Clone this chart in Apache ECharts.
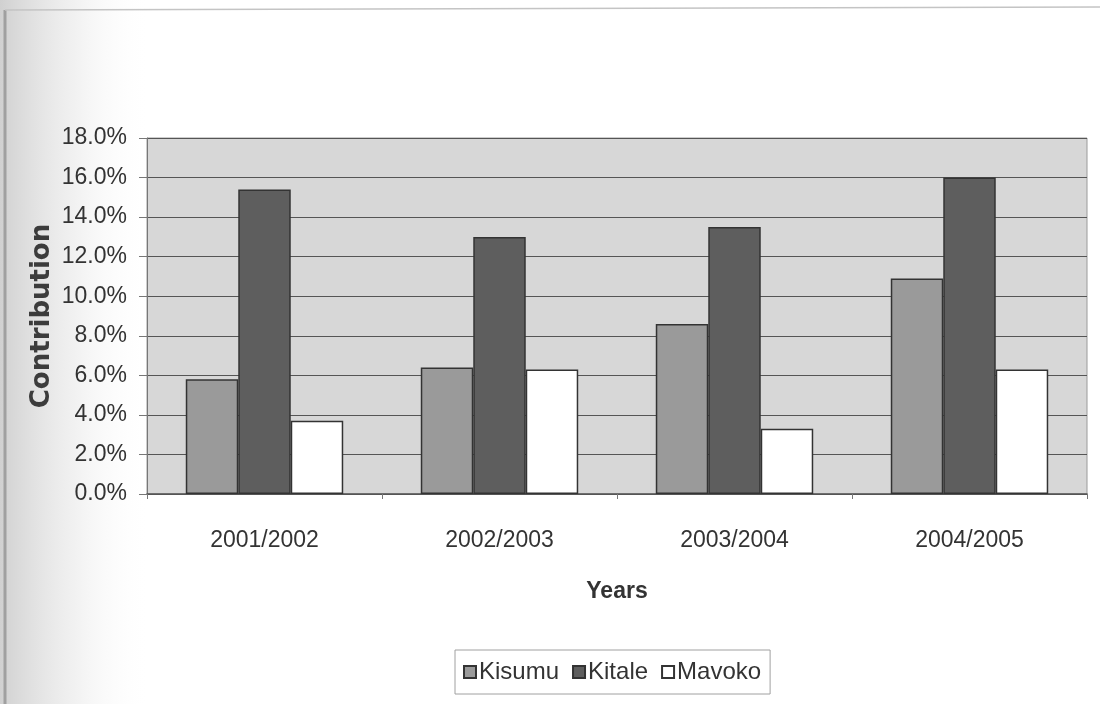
<!DOCTYPE html>
<html>
<head>
<meta charset="utf-8">
<title>Contribution by Years</title>
<script src="https://cdn.jsdelivr.net/npm/echarts@6/dist/echarts.min.js"></script>
<style>
  html, body { margin: 0; padding: 0; background: #ffffff; }
  #chart { width: 1106px; height: 704px; }
</style>
</head>
<body>
<div id="chart"></div>
<script>
// Financial years on the category axis
const years = ['2001/2002', '2002/2003', '2003/2004', '2004/2005'];

// Contribution per town, in percent
const kisumu = [5.8, 6.4, 8.6, 10.9];
const kitale = [15.4, 13.0, 13.5, 16.0];
const mavoko = [3.7, 6.3, 3.3, 6.3];

// Value axis ticks, in percent
const yMin = 0;
const yMax = 18;
const yStep = 2;

const sans = "'Liberation Sans Narrow', 'Arial Narrow', 'Liberation Sans', Arial, sans-serif";
const textColor = '#333333';
const edge = '#333333';

const chart = echarts.init(document.getElementById('chart'), null, { renderer: 'canvas' });

function barSeries(name, data, fill) {
  return {
    name: name,
    type: 'bar',
    data: data,
    barGap: '0%',
    barCategoryGap: '33%',
    itemStyle: { color: fill, borderColor: edge, borderWidth: 1.5 },
    emphasis: { disabled: true }
  };
}

chart.setOption({
  animation: false,
  backgroundColor: '#ffffff',
  graphic: [
    {
      type: 'rect',
      left: 0, top: 0, z: -10,
      shape: { width: 150, height: 704 },
      style: {
        fill: {
          type: 'linear', x: 0, y: 0, x2: 1, y2: 0,
          colorStops: [
            { offset: 0, color: 'rgba(170,170,170,0.55)' },
            { offset: 0.5, color: 'rgba(210,210,210,0.3)' },
            { offset: 1, color: 'rgba(255,255,255,0)' }
          ]
        }
      },
      silent: true
    },
    {
      type: 'line', z: -5, silent: true,
      shape: { x1: 5, y1: 10, x2: 5, y2: 704 },
      style: { stroke: '#a0a0a0', lineWidth: 3 }
    },
    {
      type: 'line', z: -5, silent: true,
      shape: { x1: 5, y1: 10, x2: 1100, y2: 7 },
      style: { stroke: '#c4c4c4', lineWidth: 1.5 }
    }
  ],
  grid: {
    left: 147,
    right: 19,
    top: 138,
    bottom: 210,
    show: true,
    backgroundColor: '#d7d7d7',
    borderColor: '#9a9a9a',
    borderWidth: 1
  },
  legend: {
    data: ['Kisumu', 'Kitale', 'Mavoko'],
    left: 455,
    top: 650,
    icon: 'rect',
    itemWidth: 12,
    itemHeight: 12,
    itemGap: 13,
    padding: [10, 9, 10, 8],
    borderColor: '#a0a0a0',
    borderWidth: 1,
    backgroundColor: '#ffffff',
    textStyle: { fontFamily: sans, fontSize: 24, color: textColor, padding: [0, 0, 0, -2] }
  },
  xAxis: {
    type: 'category',
    data: years,
    name: 'Years',
    nameLocation: 'middle',
    nameGap: 86,
    nameTextStyle: { fontFamily: sans, fontSize: 23, fontWeight: 'bold', color: textColor },
    axisLine: { lineStyle: { color: '#555555', width: 1.5 } },
    axisTick: { show: true, length: 5, lineStyle: { color: '#777777' } },
    axisLabel: { fontFamily: sans, fontSize: 23, color: textColor, margin: 35 },
    splitLine: { show: false }
  },
  yAxis: {
    type: 'value',
    min: yMin,
    max: yMax,
    interval: yStep,
    name: 'Contribution',
    nameLocation: 'middle',
    nameRotate: 90,
    nameGap: 92,
    nameMoveOverlap: false,
    nameTextStyle: { fontFamily: "'DejaVu Sans', sans-serif", fontSize: 26, fontWeight: 'bold', color: '#3c3c3c' },
    axisLine: { show: true, lineStyle: { color: '#777777' } },
    axisTick: { show: true, length: 8, lineStyle: { color: '#777777' } },
    axisLabel: {
      fontFamily: sans, fontSize: 23, color: textColor, margin: 20,
      formatter: function (v) { return v.toFixed(1) + '%'; }
    },
    splitLine: { show: true, lineStyle: { color: '#555555', width: 1 } }
  },
  series: [
    barSeries('Kisumu', kisumu, '#9a9a9a'),
    barSeries('Kitale', kitale, '#5e5e5e'),
    barSeries('Mavoko', mavoko, '#ffffff')
  ]
});
</script>
</body>
</html>
